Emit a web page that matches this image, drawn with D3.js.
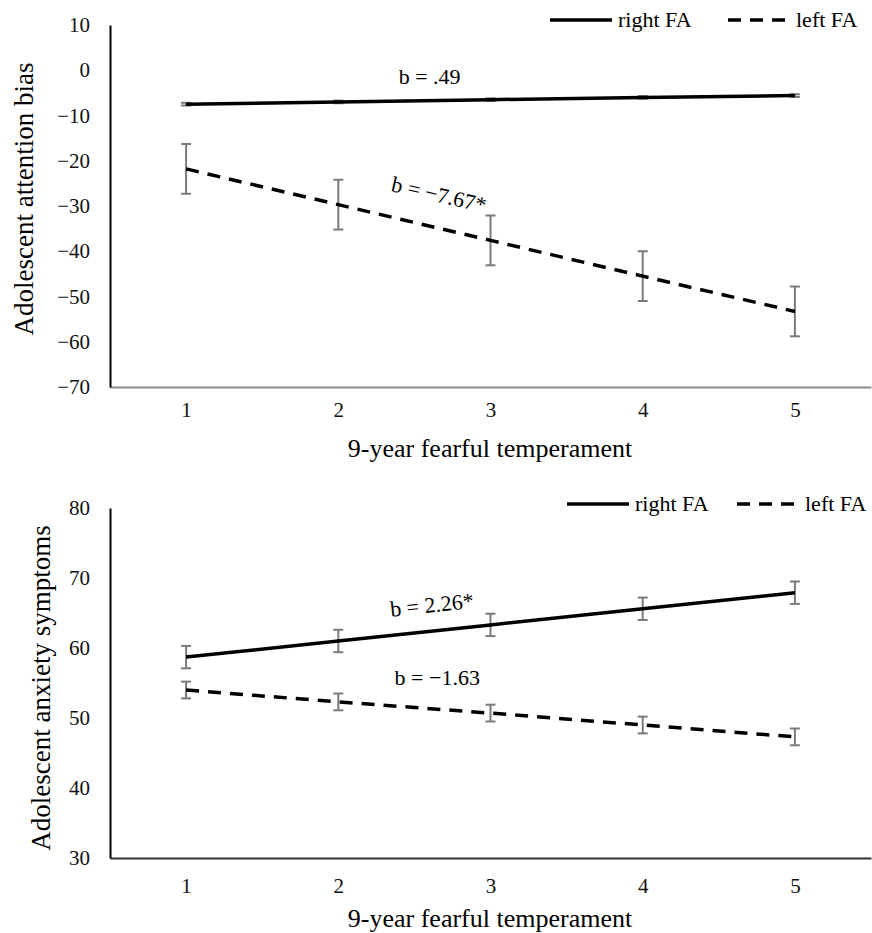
<!DOCTYPE html>
<html>
<head>
<meta charset="utf-8">
<script src="https://cdn.jsdelivr.net/npm/d3@7"></script>
<style>
  body { margin: 0; background: #fff; }
  svg, svg text { font-family: "Liberation Serif", "Times New Roman", serif; }
  svg { display: block; }
</style>
</head>
<body>
<svg id="chart" width="872" height="933"></svg>
<script>
// data
var temperament = [1, 2, 3, 4, 5];

var biasTicks = [10, 0, -10, -20, -30, -40, -50, -60, -70];
var biasRight = [-7.5, -7.0, -6.5, -6.0, -5.6];
var biasRightErr = [0.3, 0.3, 0.3, 0.3, 0.3];
var biasLeft = [-21.8, -29.7, -37.6, -45.5, -53.3];
var biasLeftErr = [5.5, 5.5, 5.5, 5.5, 5.5];

var anxTicks = [80, 70, 60, 50, 40, 30];
var anxRight = [58.7, 61.0, 63.3, 65.6, 67.9];
var anxRightErr = [1.6, 1.6, 1.6, 1.6, 1.6];
var anxLeft = [54.0, 52.3, 50.7, 49.0, 47.3];
var anxLeftErr = [1.2, 1.2, 1.2, 1.2, 1.2];

var seriesNames = ["right FA", "left FA"];

var svg = d3.select("#chart");
var fmt = function(d) { return String(d).replace("-", "\u2212"); };

function panel(cfg) {
  var g = svg.append("g");

  var x = d3.scalePoint().domain(temperament).range([110, 871]).padding(0.5);
  var y = d3.scaleLinear().domain(cfg.domain).range(cfg.range);

  // axes
  var xAxis = g.append("g")
    .attr("transform", "translate(0," + cfg.range[0] + ")")
    .call(d3.axisBottom(x).tickSize(0).tickPadding(cfg.xPad))
    .attr("font-family", null).attr("font-size", null);
  xAxis.select(".domain").attr("stroke", cfg.xAxisColor).attr("stroke-width", 2);
  xAxis.selectAll("text").attr("font-size", 21).attr("fill", "#111");

  var yAxis = g.append("g")
    .attr("transform", "translate(110,0)")
    .call(d3.axisLeft(y).tickValues(cfg.ticks).tickFormat(fmt).tickSize(0).tickPadding(20))
    .attr("font-family", null).attr("font-size", null);
  yAxis.select(".domain").attr("stroke", "#000").attr("stroke-width", 2);
  yAxis.selectAll("text").attr("font-size", 21).attr("fill", "#111");

  // axis titles
  g.append("text")
    .attr("transform", "translate(" + cfg.yTitleX + "," + cfg.yTitleY + ")rotate(-90)")
    .attr("text-anchor", "middle")
    .attr("font-size", 27)
    .text(cfg.yTitle);

  g.append("text")
    .attr("x", 490)
    .attr("y", cfg.xTitleY)
    .attr("text-anchor", "middle")
    .attr("font-size", 26)
    .text("9-year fearful temperament");

  // error bars then lines
  var lines = [
    {vals: cfg.right, err: cfg.rightErr, dash: null},
    {vals: cfg.left, err: cfg.leftErr, dash: "13,9"}
  ];

  lines.forEach(function(s) {
    var pts = temperament.map(function(t, i) { return {t: t, v: s.vals[i], e: s.err[i]}; });

    var eb = g.append("g").selectAll("g").data(pts).enter().append("g")
      .attr("stroke", "#7a7a7a").attr("stroke-width", 2);
    eb.append("line")
      .attr("x1", function(d) { return x(d.t); })
      .attr("x2", function(d) { return x(d.t); })
      .attr("y1", function(d) { return y(d.v + d.e); })
      .attr("y2", function(d) { return y(d.v - d.e); });
    eb.append("line")
      .attr("x1", function(d) { return x(d.t) - 5; })
      .attr("x2", function(d) { return x(d.t) + 5; })
      .attr("y1", function(d) { return y(d.v + d.e); })
      .attr("y2", function(d) { return y(d.v + d.e); });
    eb.append("line")
      .attr("x1", function(d) { return x(d.t) - 5; })
      .attr("x2", function(d) { return x(d.t) + 5; })
      .attr("y1", function(d) { return y(d.v - d.e); })
      .attr("y2", function(d) { return y(d.v - d.e); });

    g.append("path")
      .datum(pts)
      .attr("fill", "none")
      .attr("stroke", "#000")
      .attr("stroke-width", 3.5)
      .attr("stroke-dasharray", s.dash)
      .attr("d", d3.line().x(function(d) { return x(d.t); }).y(function(d) { return y(d.v); }));
  });

  // slope labels
  cfg.notes.forEach(function(n) {
    var px = x(1) + (n.at - 1) * x.step(), py = y(n.v);
    g.append("text")
      .attr("transform", "translate(" + px + "," + py + ")rotate(" + n.rot + ")")
      .attr("text-anchor", "middle")
      .attr("font-size", 22)
      .text(n.text);
  });

  // legend
  var lg = g.append("g").attr("transform", "translate(0," + cfg.legendY + ")");
  lg.append("line").attr("x1", cfg.legendX[0]).attr("x2", cfg.legendX[0] + 62)
    .attr("y1", 0).attr("y2", 0).attr("stroke", "#000").attr("stroke-width", 3.5);
  lg.append("text").attr("x", cfg.legendX[0] + 68).attr("y", 7).attr("font-size", 22).text(seriesNames[0]);
  lg.append("line").attr("x1", cfg.legendX[1]).attr("x2", cfg.legendX[1] + 62)
    .attr("y1", 0).attr("y2", 0).attr("stroke", "#000").attr("stroke-width", 3.5)
    .attr("stroke-dasharray", "13,9");
  lg.append("text").attr("x", cfg.legendX[1] + 68).attr("y", 7).attr("font-size", 22).text(seriesNames[1]);
}

panel({
  domain: [-70, 10], range: [387, 25], ticks: biasTicks,
  right: biasRight, rightErr: biasRightErr, left: biasLeft, leftErr: biasLeftErr,
  xAxisColor: "#8a8a8a", xPad: 15, xTitleY: 457,
  yTitle: "Adolescent attention bias", yTitleX: 33, yTitleY: 199,
  legendY: 20, legendX: [550, 728],
  notes: [
    {text: "b = .49", at: 2.6, v: -3, rot: 0},
    {text: "b = \u22127.67*", at: 2.65, v: -29.1, rot: 13}
  ]
});

panel({
  domain: [30, 80], range: [858, 508], ticks: anxTicks,
  right: anxRight, rightErr: anxRightErr, left: anxLeft, leftErr: anxLeftErr,
  xAxisColor: "#333", xPad: 20, xTitleY: 927,
  yTitle: "Adolescent anxiety symptoms", yTitleX: 50, yTitleY: 688,
  legendY: 504, legendX: [567, 737],
  notes: [
    {text: "b = 2.26*", at: 2.62, v: 65.1, rot: -6},
    {text: "b = \u22121.63", at: 2.65, v: 54.7, rot: 0}
  ]
});
</script>
</body>
</html>
